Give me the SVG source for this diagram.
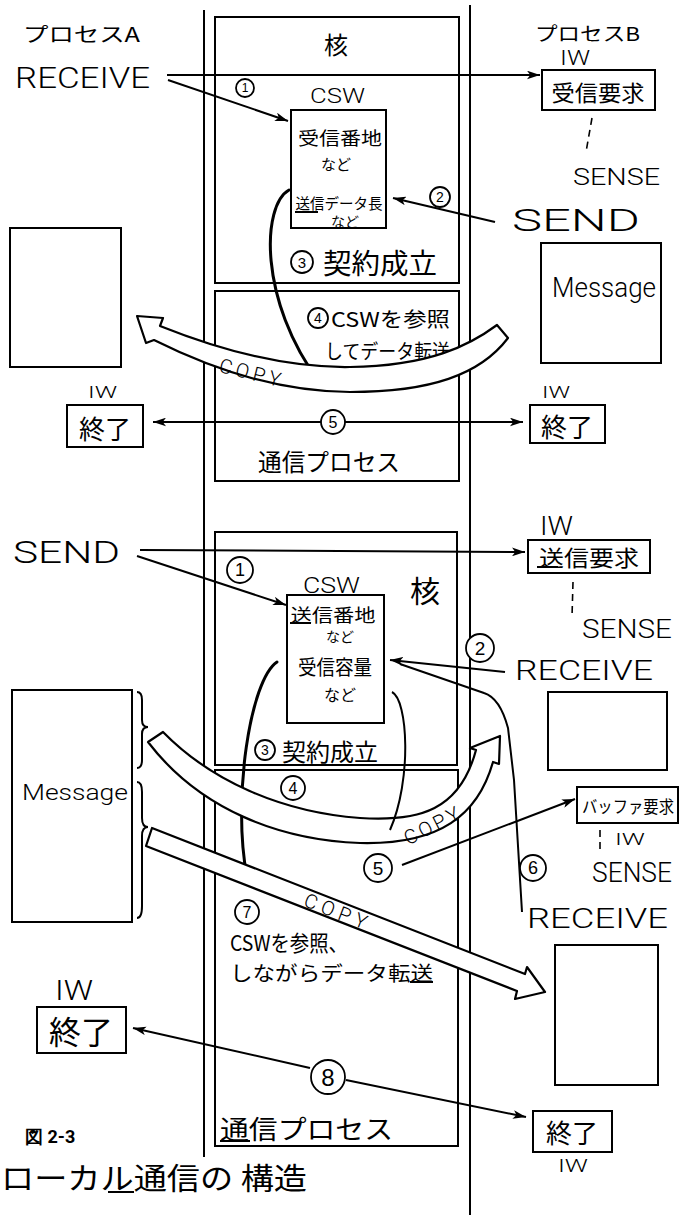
<svg xmlns="http://www.w3.org/2000/svg" width="691" height="1215" viewBox="0 0 691 1215">
<style>
.bx{fill:none;stroke:#000;stroke-width:2}
.ln{fill:none;stroke:#000;stroke-width:2}
.th{fill:none;stroke:#000;stroke-width:3;stroke-linecap:round}
.ds{fill:none;stroke:#000;stroke-width:1.6;stroke-dasharray:7 5}
.band{fill:#fff;stroke:#000;stroke-width:2.2;stroke-linejoin:round}
.cir{fill:#fff;stroke:#000;stroke-width:1.8}
text{fill:#000}
.jp{font-family:"Noto Sans CJK JP","Liberation Sans",sans-serif;dominant-baseline:central;text-anchor:middle}
.jl{font-family:"Noto Sans CJK JP","Liberation Sans",sans-serif;dominant-baseline:central}
.la{font-family:"Roboto","Open Sans","Liberation Sans",sans-serif;font-weight:300}
.num{font-family:"Liberation Sans",sans-serif;text-anchor:middle;dominant-baseline:central}
</style>
<defs>
<marker id="ah" viewBox="0 0 12 8" markerUnits="userSpaceOnUse" markerWidth="13" markerHeight="9" refX="12" refY="4" orient="auto">
<path d="M0,0 L12,4 L0,8 L3,4 Z" fill="#000"/>
</marker>
</defs>
<rect width="691" height="1215" fill="#fff"/>

<g id="columns">
<line class="ln" x1="204" y1="10" x2="204" y2="1157"/>
<line class="ln" x1="470" y1="5" x2="470" y2="1215"/>
</g>

<g id="kernel-top">
<rect class="bx" x="215" y="17" width="244" height="266"/>
<text class="jp" x="336" y="43" font-size="24">核</text>
<text class="la" x="310" y="103" font-size="20" textLength="55" lengthAdjust="spacingAndGlyphs">CSW</text>
<g id="step1-top"><circle class="cir" cx="245" cy="88" r="9"/><text class="num" x="245" y="88" font-size="12">1</text></g>
<g id="step2-top"><circle class="cir" cx="440" cy="197" r="10"/><text class="num" x="440" y="197" font-size="14">2</text></g>
<g id="step3-top"><circle class="cir" cx="302" cy="262" r="11"/><text class="num" x="302" y="262" font-size="15">3</text></g>
<text class="jl" x="323" y="262" font-size="28" textLength="114" lengthAdjust="spacingAndGlyphs">契約成立</text>
</g>

<g id="csw-top">
<rect class="bx" x="291" y="110" width="95" height="118"/>
<text class="jp" x="340" y="137" font-size="18" textLength="84" lengthAdjust="spacingAndGlyphs">受信番地</text>
<text class="jp" x="336" y="163" font-size="15">など</text>
<text class="jp" x="339" y="202" font-size="15" textLength="87" lengthAdjust="spacingAndGlyphs">送信データ長</text>
<line class="ln" x1="295" y1="212" x2="318" y2="212" stroke-width="1.5"/>
<text class="jp" x="345" y="221" font-size="14">など</text>
</g>

<g id="comm-top">
<rect class="bx" x="215" y="291" width="244" height="190"/>
<g id="step4-top"><circle class="cir" cx="318" cy="318" r="10"/><text class="num" x="318" y="318" font-size="14">4</text></g>
<text class="jl" x="331" y="318" font-size="20" textLength="119" lengthAdjust="spacingAndGlyphs">CSWを参照</text>
<text class="jl" x="325" y="350" font-size="20" textLength="125" lengthAdjust="spacingAndGlyphs">してデータ転送</text>
<text class="jl" x="258" y="460" font-size="24" textLength="142" lengthAdjust="spacingAndGlyphs">通信プロセス</text>
</g>

<g id="processA-top">
<text class="jl" x="23" y="33" font-size="20" textLength="117" lengthAdjust="spacingAndGlyphs">プロセスA</text>
<text class="la" x="15" y="88" font-size="29" textLength="135" lengthAdjust="spacingAndGlyphs">RECEIVE</text>
<rect class="bx" x="10" y="228" width="111" height="139"/>
<text class="la" x="88" y="398" font-size="16" textLength="29" lengthAdjust="spacingAndGlyphs">IW</text>
<rect class="bx" x="67" y="405" width="76" height="42"/>
<text class="jp" x="105" y="427" font-size="26">終了</text>
</g>

<g id="processB-top">
<text class="jl" x="535" y="32" font-size="19" textLength="105" lengthAdjust="spacingAndGlyphs">プロセスB</text>
<text class="la" x="560" y="65" font-size="20" textLength="30" lengthAdjust="spacingAndGlyphs">IW</text>
<rect class="bx" x="542" y="70" width="113" height="40"/>
<text class="jp" x="598" y="91" font-size="22" textLength="93" lengthAdjust="spacingAndGlyphs">受信要求</text>
<text class="la" x="573" y="185" font-size="24" textLength="87" lengthAdjust="spacingAndGlyphs">SENSE</text>
<text class="la" x="512" y="231" font-size="32" textLength="128" lengthAdjust="spacingAndGlyphs">SEND</text>
<rect class="bx" x="541" y="243" width="120" height="120"/>
<text class="la" x="552" y="297" font-size="27" textLength="104" lengthAdjust="spacingAndGlyphs">Message</text>
<text class="la" x="542" y="398" font-size="16" textLength="28" lengthAdjust="spacingAndGlyphs">IW</text>
<rect class="bx" x="530" y="405" width="75" height="38"/>
<text class="jp" x="567" y="425" font-size="26">終了</text>
</g>

<g id="kernel-bottom">
<rect class="bx" x="215" y="532" width="242" height="233"/>
<text class="la" x="303" y="593" font-size="22" textLength="57" lengthAdjust="spacingAndGlyphs">CSW</text>
<text class="jp" x="425" y="589" font-size="30">核</text>
<g id="step1-bot"><circle class="cir" cx="240" cy="570" r="13"/><text class="num" x="240" y="570" font-size="18">1</text></g>
<g id="step2-bot"><circle class="cir" cx="480" cy="648" r="14"/><text class="num" x="480" y="648" font-size="19">2</text></g>
<g id="step3-bot"><circle class="cir" cx="265" cy="750" r="10"/><text class="num" x="265" y="750" font-size="14">3</text></g>
<text class="jl" x="282" y="750" font-size="24" textLength="96" lengthAdjust="spacingAndGlyphs">契約成立</text>
</g>

<g id="csw-bottom">
<rect class="bx" x="287" y="595" width="97" height="128"/>
<text class="jp" x="333" y="614" font-size="18" textLength="85" lengthAdjust="spacingAndGlyphs">送信番地</text>
<line class="ln" x1="290" y1="623" x2="311" y2="623" stroke-width="1.5"/>
<text class="jp" x="340" y="636" font-size="14">など</text>
<text class="jp" x="335" y="666" font-size="20" textLength="74" lengthAdjust="spacingAndGlyphs">受信容量</text>
<text class="jp" x="340" y="694" font-size="16">など</text>
</g>

<g id="comm-bottom">
<rect class="bx" x="215" y="770" width="243" height="376"/>
<g id="step7"><circle class="cir" cx="247" cy="912" r="12"/><text class="num" x="247" y="912" font-size="16">7</text></g>
<text class="jl" x="230" y="941" font-size="22" textLength="118" lengthAdjust="spacingAndGlyphs">CSWを参照、</text>
<text class="jl" x="230" y="972" font-size="20" textLength="203" lengthAdjust="spacingAndGlyphs">しながらデータ転送</text>
<line class="ln" x1="410" y1="982" x2="433" y2="982" stroke-width="1.5"/>
<text class="jl" x="220" y="1127" font-size="26" textLength="173" lengthAdjust="spacingAndGlyphs">通信プロセス</text>
<line class="ln" x1="220" y1="1141" x2="250" y2="1141" stroke-width="1.5"/>
</g>

<g id="processA-bottom">
<text class="la" x="13" y="563" font-size="32" textLength="107" lengthAdjust="spacingAndGlyphs">SEND</text>
<rect class="bx" x="12" y="690" width="120" height="232"/>
<text class="la" x="22" y="800" font-size="22" textLength="106" lengthAdjust="spacingAndGlyphs">Message</text>
<path class="ln" d="M137,692 Q142,692 142,700 L142,720 Q142,727 148,727 Q142,727 142,734 L142,760 Q142,768 137,768"/>
<path class="ln" d="M137,782 Q142,782 142,792 L142,818 Q142,827 148,827 Q142,827 142,836 L142,906 Q142,918 137,918"/>
<text class="la" x="55" y="1000" font-size="27" textLength="38" lengthAdjust="spacingAndGlyphs">IW</text>
<rect class="bx" x="37" y="1007" width="89" height="46"/>
<text class="jp" x="81" y="1030" font-size="32">終了</text>
</g>

<g id="processB-bottom">
<text class="la" x="540" y="535" font-size="25" textLength="33" lengthAdjust="spacingAndGlyphs">IW</text>
<rect class="bx" x="528" y="540" width="122" height="33"/>
<text class="jp" x="589" y="556" font-size="22" textLength="100" lengthAdjust="spacingAndGlyphs">送信要求</text>
<line class="ln" x1="537" y1="567" x2="558" y2="567" stroke-width="1.5"/>
<text class="la" x="582" y="638" font-size="25" textLength="90" lengthAdjust="spacingAndGlyphs">SENSE</text>
<text class="la" x="515" y="680" font-size="28" textLength="138" lengthAdjust="spacingAndGlyphs">RECEIVE</text>
<rect class="bx" x="548" y="692" width="119" height="78"/>
<rect class="bx" x="577" y="787" width="101" height="36"/>
<text class="jp" x="628" y="805" font-size="17" textLength="92" lengthAdjust="spacingAndGlyphs">バッファ要求</text>
<text class="la" x="615" y="845" font-size="17" textLength="30" lengthAdjust="spacingAndGlyphs">IW</text>
<text class="la" x="592" y="882" font-size="28" textLength="80" lengthAdjust="spacingAndGlyphs">SENSE</text>
<text class="la" x="527" y="928" font-size="28" textLength="141" lengthAdjust="spacingAndGlyphs">RECEIVE</text>
<rect class="bx" x="555" y="945" width="103" height="140"/>
<rect class="bx" x="533" y="1111" width="79" height="41"/>
<text class="jp" x="572" y="1131" font-size="26">終了</text>
<text class="la" x="558" y="1172" font-size="19" textLength="30" lengthAdjust="spacingAndGlyphs">IW</text>
</g>

<g id="connectors">
<line class="ln" x1="167" y1="75" x2="540" y2="75" marker-end="url(#ah)"/>
<line class="ln" x1="168" y1="80" x2="288" y2="121" marker-end="url(#ah)" stroke-width="2.5"/>
<line class="ln" x1="495" y1="222" x2="393" y2="198" marker-end="url(#ah)" stroke-width="2.5"/>
<line class="ds" x1="592" y1="118" x2="586" y2="152"/>
<path class="th" d="M289,190 C262,205 258,300 320,383"/>
<path class="band" d="M497,325 C470,345 430,366 350,367 C285,368 215,348 160,326 L163,318 L137,316 L146,343 L154,340 C210,368 280,392 350,392 C430,392 480,375 508,338 Z"/>
<text class="la" x="252" y="380" font-size="20" text-anchor="middle" letter-spacing="4" transform="rotate(14 252 373)">COPY</text>
<line class="ln" x1="321" y1="422" x2="153" y2="422" marker-end="url(#ah)"/>
<line class="ln" x1="345" y1="422" x2="523" y2="422" marker-end="url(#ah)"/>
<g id="step5-top"><circle class="cir" cx="333" cy="422" r="12"/><text class="num" x="333" y="422" font-size="16">5</text></g>

<line class="ln" x1="140" y1="550" x2="525" y2="552" marker-end="url(#ah)"/>
<line class="ln" x1="137" y1="556" x2="286" y2="605" marker-end="url(#ah)" stroke-width="2.5"/>
<line class="ds" x1="573" y1="582" x2="572" y2="617"/>
<path class="ln" d="M522,912 L514,780 L508,728 Q500,698 484,693 L400,664" stroke-width="2.2"/>
<line class="ln" x1="505" y1="672" x2="390" y2="660" marker-end="url(#ah)" stroke-width="2.5"/>
<path class="th" d="M277,662 C250,680 232,800 247,877"/>
<path class="band" d="M163,732 C210,780 280,812 360,818 C420,822 460,810 476,750 L470,748 L500,736 L499,764 L493,762 C478,815 440,845 360,843 C280,840 200,810 148,742 Z"/>
<path class="ln" d="M392,692 C408,700 412,780 390,830" stroke-width="2.5"/>
<text class="la" x="433" y="832" font-size="20" text-anchor="middle" letter-spacing="3" transform="rotate(-27 433 825)">COPY</text>
<g id="step4-bot"><circle class="cir" cx="293" cy="788" r="12"/><text class="num" x="293" y="788" font-size="16">4</text></g>
<path class="band" d="M152,828 L525,974 L527,967 L545,992 L515,999 L517,991 L146,846 Z"/>
<text class="la" x="338" y="919" font-size="20" text-anchor="middle" letter-spacing="5" transform="rotate(21 338 912)">COPY</text>
<line class="ln" x1="402" y1="865" x2="575" y2="799" marker-end="url(#ah)"/>
<g id="step5-bot"><circle class="cir" cx="378" cy="868" r="14"/><text class="num" x="378" y="868" font-size="19">5</text></g>
<g id="step6"><circle class="cir" cx="533" cy="868" r="13"/><text class="num" x="533" y="868" font-size="18">6</text></g>
<line class="ds" x1="600" y1="830" x2="600" y2="853"/>
<line class="ln" x1="310" y1="1068" x2="133" y2="1028" marker-end="url(#ah)" stroke-width="2.2"/>
<line class="ln" x1="346" y1="1080" x2="526" y2="1117" marker-end="url(#ah)" stroke-width="2.2"/>
<g id="step8"><circle class="cir" cx="328" cy="1077" r="17"/><text class="num" x="328" y="1077" font-size="24">8</text></g>
</g>

<g id="caption">
<text class="la" x="25" y="1143" font-size="18" style="font-weight:bold">図 2-3</text>
<text class="jl" x="1" y="1176" font-size="30" textLength="306" lengthAdjust="spacingAndGlyphs">ローカル通信の 構造</text>
<line class="ln" x1="108" y1="1192" x2="134" y2="1192" stroke-width="1.5"/>
</g>
</svg>
